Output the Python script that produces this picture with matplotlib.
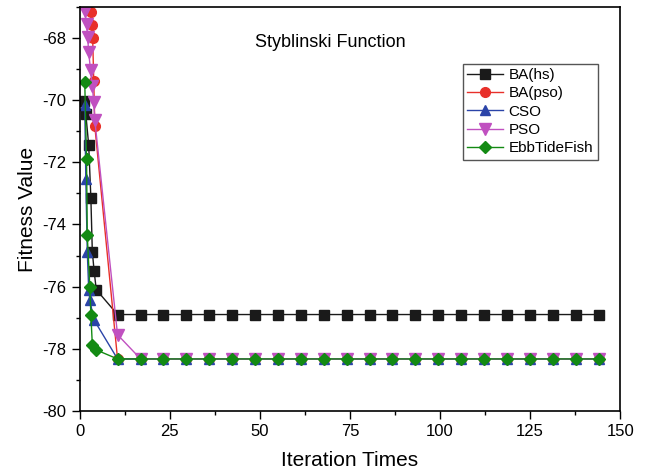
import matplotlib
matplotlib.use("Agg")
import matplotlib.pyplot as plt
from matplotlib.ticker import MultipleLocator

plt.rcParams['font.family'] = ['Liberation Sans', 'DejaVu Sans']
plt.rcParams['axes.unicode_minus'] = False

# late sample points shared by all curves
late_x = [10.5, 16.9, 23.2, 29.6, 35.9, 42.3, 48.7, 55.0, 61.4, 67.7, 74.1,
          80.5, 86.8, 93.2, 99.5, 105.9, 112.3, 118.6, 125.0, 131.3, 137.7, 144.0]

# BA(hs)
hs_x = [1.1, 1.7, 2.5, 3.1, 3.5, 4.0, 4.6] + late_x
hs_y = [-70.03, -70.45, -71.45, -73.15, -74.87, -75.5, -76.1] + [-76.9] * 22

# BA(pso)
pso_ba_x = [3.0, 3.3, 3.6, 3.9, 4.2] + late_x
pso_ba_y = [-67.16, -67.58, -68.0, -69.39, -70.84] + [-78.33] * 22

# CSO
cso_x = [1.4, 1.7, 2.1, 2.5, 2.8, 3.9] + late_x
cso_y = [-70.16, -72.55, -74.87, -76.1, -76.42, -77.06] + [-78.33] * 22

# PSO
pso_x = [1.4, 1.9, 2.2, 2.5, 3.0, 3.5, 3.9, 4.2] + late_x
pso_y = [-67.13, -67.55, -67.97, -68.45, -69.03, -69.55, -70.06, -70.65, -77.55] + [-78.33] * 21

# EbbTideFish
etf_x = [1.4, 1.9, 2.1, 2.8, 3.1, 3.5, 4.4] + late_x
etf_y = [-69.42, -71.9, -74.35, -76.0, -76.9, -77.87, -78.03] + [-78.33] * 22

fig = plt.figure(figsize=(6.48, 4.76), dpi=100)
ax = fig.add_axes([0.123, 0.137, 0.834, 0.848])

ms = 7
ax.plot(hs_x, hs_y, color='#1a1a1a', marker='s', ms=ms, lw=1, label='BA(hs)')
ax.plot(pso_ba_x, pso_ba_y, color='#e8302a', marker='o', ms=ms, lw=1, label='BA(pso)')
ax.plot(cso_x, cso_y, color='#2b44a8', marker='^', ms=ms, lw=1, label='CSO')
ax.plot(pso_x, pso_y, color='#c050c0', marker='v', ms=ms + 1, lw=1, label='PSO')
ax.plot(etf_x, etf_y, color='#138a13', marker='D', ms=ms - 1, lw=1, label='EbbTideFish')

ax.set_xlim(0, 150)
ax.set_ylim(-80, -67)
ax.xaxis.set_major_locator(MultipleLocator(25))
ax.xaxis.set_minor_locator(MultipleLocator(12.5))
ax.yaxis.set_major_locator(MultipleLocator(2))
ax.yaxis.set_minor_locator(MultipleLocator(1))
ax.tick_params(which='major', direction='out', length=6, width=1, labelsize=12)
ax.tick_params(which='minor', direction='out', length=3, width=1)
for s in ax.spines.values():
    s.set_linewidth(1.2)

ax.set_xlabel('Iteration Times', fontsize=15, labelpad=9)
ax.set_ylabel('Fitness Value', fontsize=15, labelpad=4)
ax.text(69.5, -68.13, 'Styblinski Function', fontsize=13, ha='center', va='center')

leg = ax.legend(loc='upper right', bbox_to_anchor=(0.973, 0.879), fontsize=11,
                fancybox=False, framealpha=1, edgecolor='#555555',
                handlelength=2.3, borderpad=0.3, labelspacing=0.28, handletextpad=0.4)
leg.get_frame().set_linewidth(1)

fig.savefig('out.png', dpi=100)
